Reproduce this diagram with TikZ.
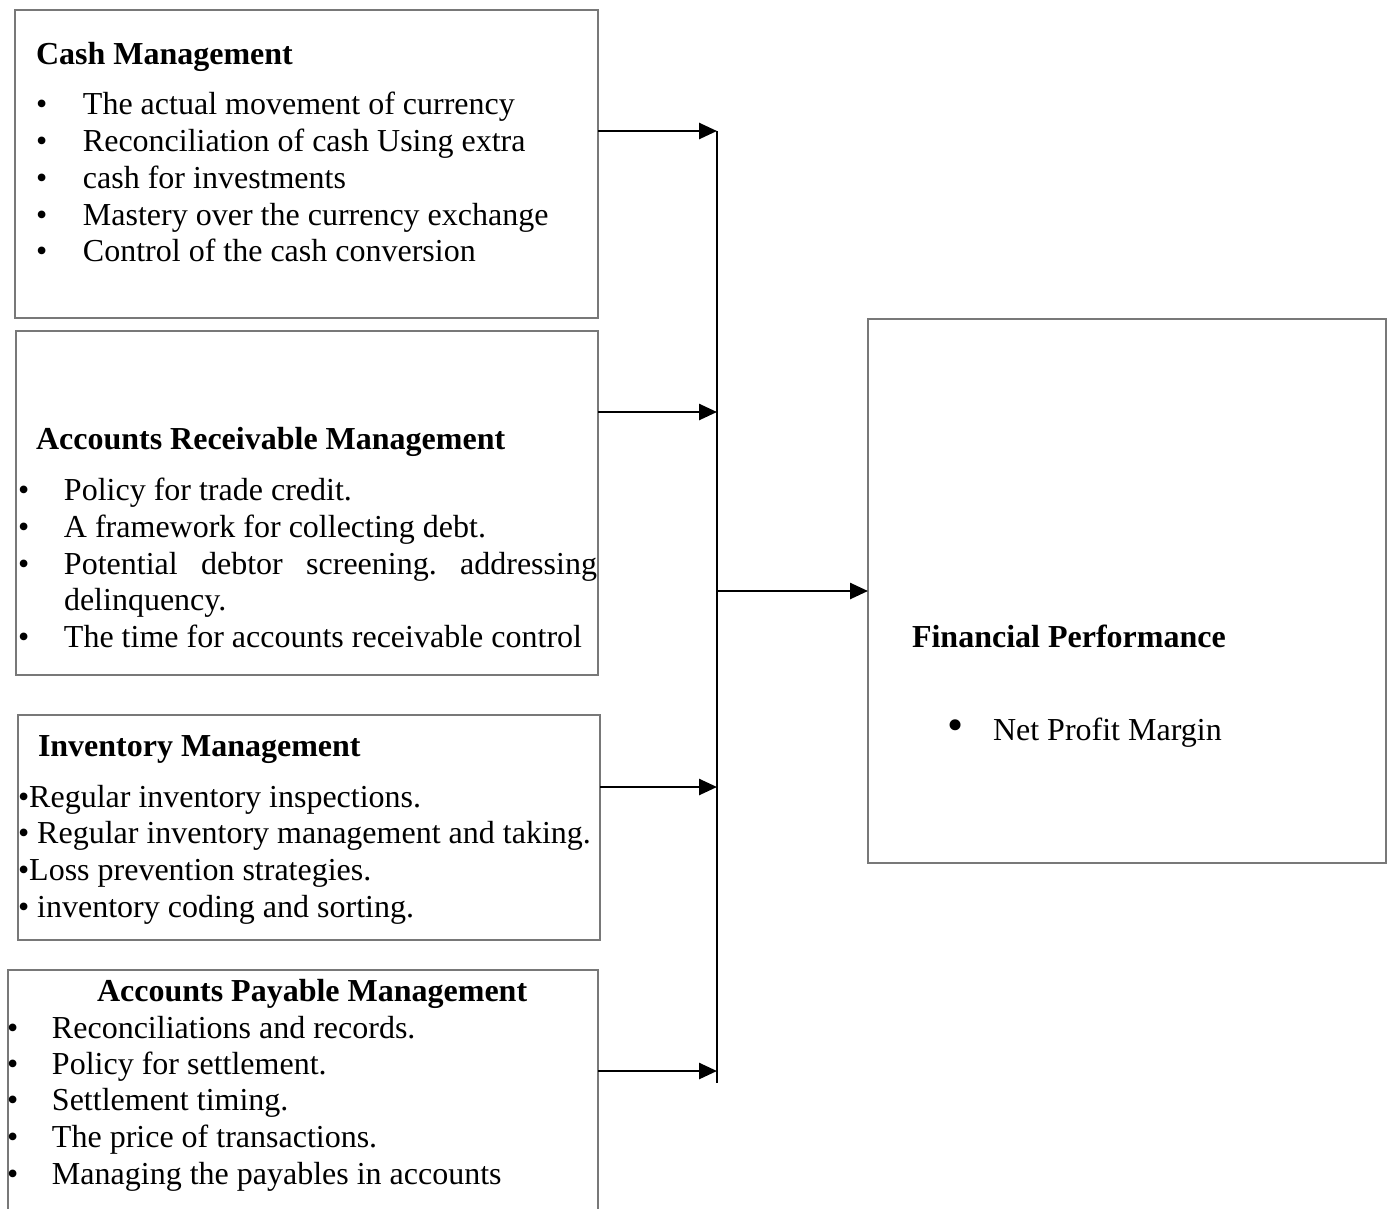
\documentclass[tikz,border=0pt]{standalone}
\usepackage{fontspec}
\setmainfont{Liberation Serif}
\usetikzlibrary{arrows.meta}
\definecolor{boxgray}{RGB}{120,120,120}
\frenchspacing
\begin{document}
\begin{tikzpicture}[x=1pt,y=-1pt,
  box/.style={draw=boxgray, line width=1.4pt, rectangle, inner sep=0pt, outer sep=0pt, anchor=north west},
  txt/.style={anchor=base west, inner sep=0pt, outer sep=0pt, font=\fontsize{32}{36.8}\selectfont},
  ttl/.style={txt, font=\fontsize{32}{36.8}\selectfont\bfseries},
  link/.style={line width=2.6pt, -{Triangle[length=18pt,width=16pt]}},
  bus/.style={line width=2pt}]
\useasboundingbox (0,0) rectangle (1391,1208);

% boxes
\node[box, minimum width=583pt, minimum height=308pt] (cash) at (15,10) {};
\node[box, minimum width=582pt, minimum height=344pt] (ar) at (16,331) {};
\node[box, minimum width=582pt, minimum height=225pt] (inv) at (18,715) {};
\node[box, minimum width=590pt, minimum height=250pt] (ap) at (8,970) {};
\node[box, minimum width=518pt, minimum height=544pt] (fp) at (868,319) {};

% cash management text
\node[ttl] (cash-t) at (36,64) {Cash Management};
\node[txt] (cash-1) at (36,114) {\makebox[47pt][l]{•}The actual movement of currency};
\node[txt] (cash-2) at (36,151) {\makebox[47pt][l]{•}Reconciliation of cash Using extra};
\node[txt] (cash-3) at (36,188) {\makebox[47pt][l]{•}cash for investments};
\node[txt] (cash-4) at (36,225) {\makebox[47pt][l]{•}Mastery over the currency exchange};
\node[txt] (cash-5) at (36,261) {\makebox[47pt][l]{•}Control of the cash conversion};

% accounts receivable text
\node[ttl] (ar-t) at (36,449) {Accounts Receivable Management};
\node[txt] (ar-1) at (18,500) {\makebox[46pt][l]{•}Policy for trade credit.};
\node[txt] (ar-2) at (18,537) {\makebox[46pt][l]{•}A framework for collecting debt.};
\node[txt] (ar-3) at (18,574) {\makebox[46pt][l]{•}\makebox[533pt][s]{Potential debtor screening. addressing}};
\node[txt] (ar-4) at (64,610) {delinquency.};
\node[txt] (ar-5) at (18,647) {\makebox[46pt][l]{•}The time for accounts receivable control};

% inventory text
\node[ttl] (inv-t) at (38,756) {Inventory Management};
\node[txt] (inv-1) at (18,807) {•Regular inventory inspections.};
\node[txt] (inv-2) at (18,843) {• Regular inventory management and taking.};
\node[txt] (inv-3) at (18,880) {•Loss prevention strategies.};
\node[txt] (inv-4) at (18,917) {• inventory coding and sorting.};

% accounts payable text
\node[ttl] (ap-t) at (97,1001) {Accounts Payable Management};
\node[txt] (ap-1) at (7,1038) {\makebox[45pt][l]{•}Reconciliations and records.};
\node[txt] (ap-2) at (7,1074) {\makebox[45pt][l]{•}Policy for settlement.};
\node[txt] (ap-3) at (7,1110) {\makebox[45pt][l]{•}Settlement timing.};
\node[txt] (ap-4) at (7,1147) {\makebox[45pt][l]{•}The price of transactions.};
\node[txt] (ap-5) at (7,1184) {\makebox[45pt][l]{•}Managing the payables in accounts};

% financial performance text
\node[ttl] (fp-t) at (912,647) {Financial Performance};
\node[txt] (fp-1) at (947,740) {\makebox[46pt][l]{\fontsize{46}{46}\selectfont•}Net Profit Margin};

% connectors
\coordinate (j1) at (717,131);
\coordinate (j2) at (717,412);
\coordinate (j3) at (717,787);
\coordinate (j4) at (717,1071);
\coordinate (jb) at (717,1083);
\coordinate (jf) at (717,591);
\draw[bus] (j1) -- (jb);
\draw[link] (cash.east |- j1) -- (j1);
\draw[link] (ar.east |- j2) -- (j2);
\draw[link] (inv.east |- j3) -- (j3);
\draw[link] (ap.east |- j4) -- (j4);
\draw[link] (jf) -- (fp.west |- jf);
\end{tikzpicture}
\end{document}
